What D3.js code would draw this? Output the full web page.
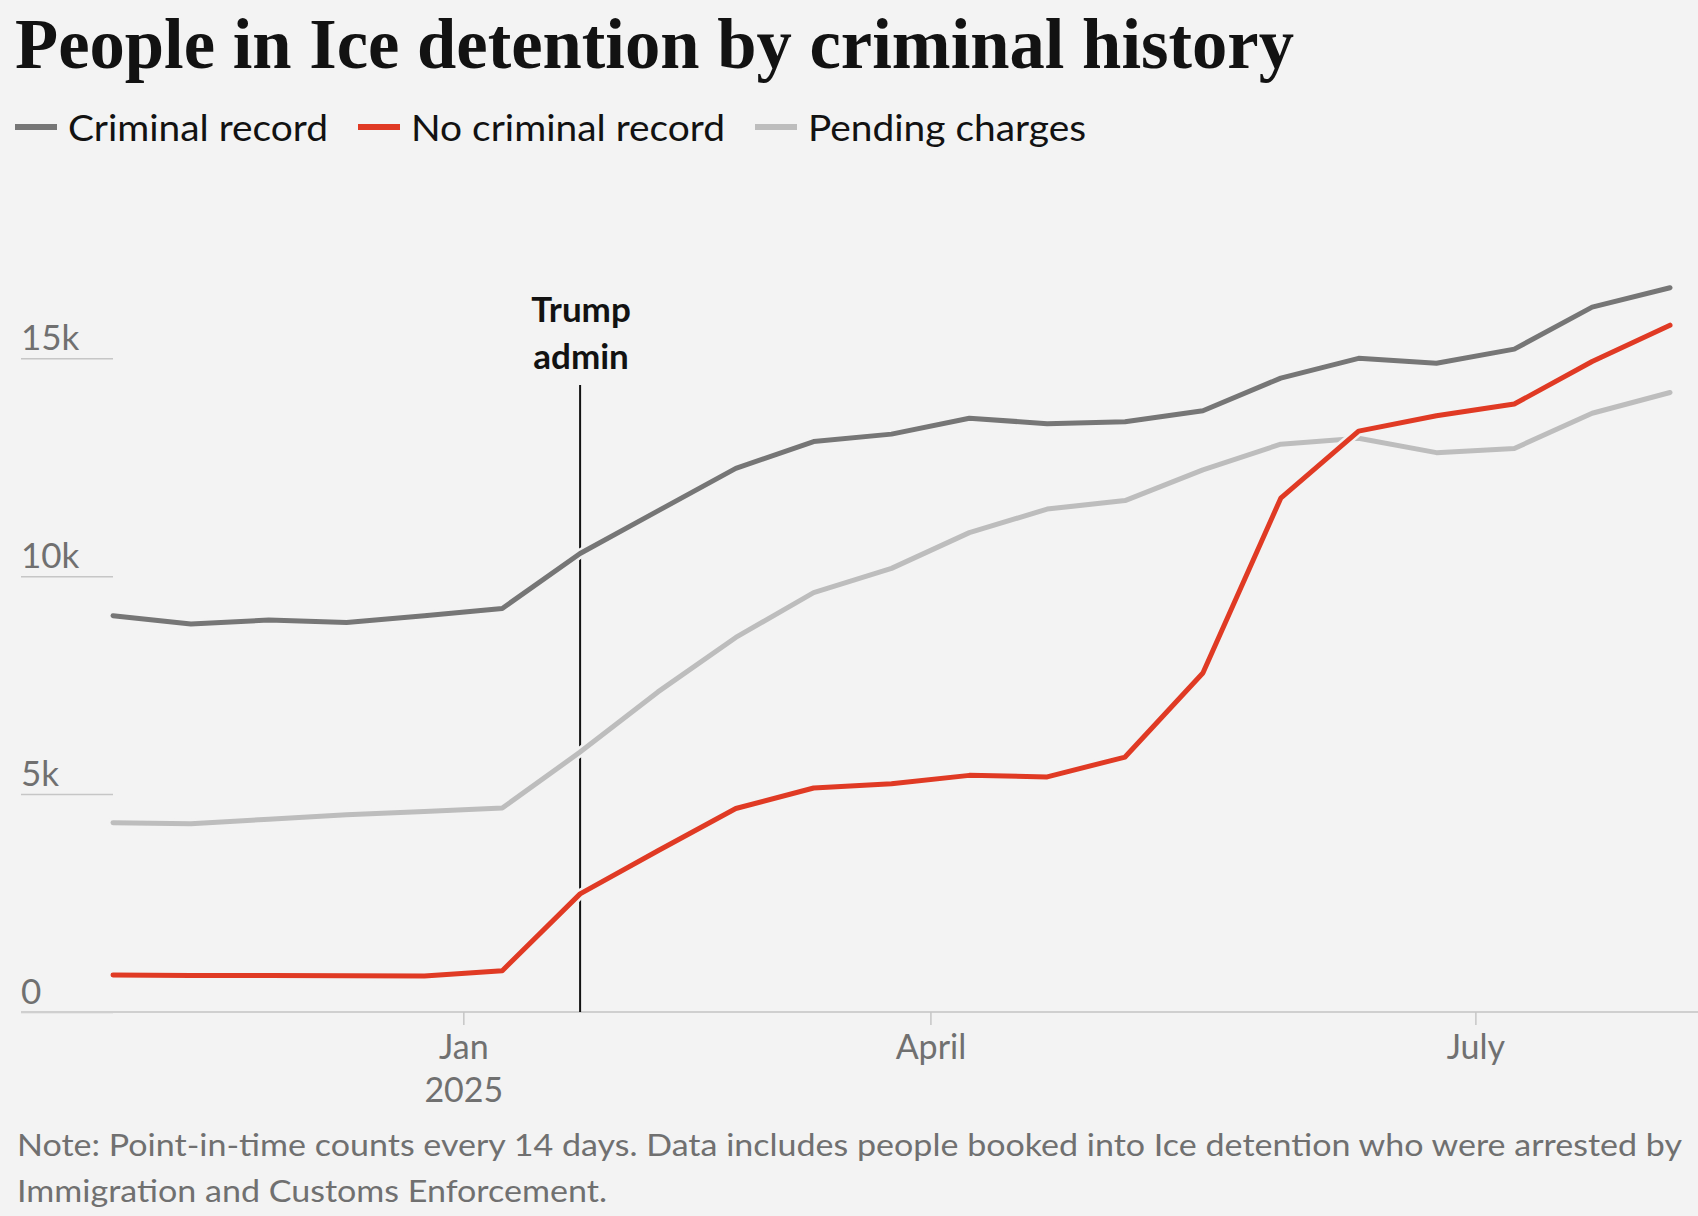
<!DOCTYPE html>
<html><head><meta charset="utf-8">
<script src="https://cdn.jsdelivr.net/npm/d3@7"></script>
<style>html,body{margin:0;padding:0;background:#f3f3f3;} svg{display:block}</style>
</head><body><svg id="chart" width="1698" height="1216"></svg>
<script>
// ---- data ----
const dates = ["2024-11-03","2024-11-17","2024-12-01","2024-12-15","2024-12-29","2025-01-12","2025-01-26","2025-02-09","2025-02-23","2025-03-09","2025-03-23","2025-04-06","2025-04-20","2025-05-04","2025-05-18","2025-06-01","2025-06-15","2025-06-29","2025-07-13","2025-07-27","2025-08-10"];
const criminalRecord   = [9095, 8905, 8995, 8940, 9095, 9260, 10520, 11500, 12475, 13090, 13260, 13625, 13500, 13545, 13795, 14545, 15000, 14885, 15210, 16175, 16620];
const noCriminalRecord = [850, 835, 835, 832, 826, 948, 2710, 3700, 4670, 5140, 5240, 5430, 5395, 5850, 7780, 11790, 13330, 13680, 13950, 14925, 15760];
const pendingCharges   = [4345, 4320, 4425, 4525, 4600, 4680, 5965, 7345, 8595, 9625, 10180, 11000, 11540, 11735, 12440, 13030, 13165, 12835, 12930, 13740, 14215];
const seriesNames  = ["Criminal record", "No criminal record", "Pending charges"];
const seriesColors = ["#767676", "#e03a24", "#bdbdbd"];
const yTickValues = [0, 5000, 10000, 15000];
const yTickLabels = ["0", "5k", "10k", "15k"];
const xTickMonths = ["2025-01", "2025-04", "2025-07"];
const xTickLabels = [["Jan", "2025"], ["April"], ["July"]];
const annotationDate = "2025-01-20";
const annotationLabel = ["Trump", "admin"];
const titleText = "People in Ice detention by criminal history";
const noteLines = ["Note: Point-in-time counts every 14 days. Data includes people booked into Ice detention who were arrested by",
                   "Immigration and Customs Enforcement."];

// ---- chart ----
const svg = d3.select("#chart");
const W = 1698, H = 1216, BG = "#f3f3f3";
const SANS = "Lato, 'Noto Sans', sans-serif";
svg.append("rect").attr("width", W).attr("height", H).attr("fill", BG);

const x = d3.scaleLinear().domain([0, dates.length - 1]).range([113, 1670]);
const y = d3.scaleLinear().domain([0, 15000]).range([1012, 358.3]);

// title
svg.append("text").attr("x", 15).attr("y", 68)
  .attr("font-family", "'Liberation Serif', serif").attr("font-weight", 700)
  .attr("font-size", 72).attr("fill", "#121212")
  .attr("textLength", 1279).attr("lengthAdjust", "spacingAndGlyphs")
  .text(titleText);

// legend
const legendWidths = [260, 314, 278];
let lx = 15;
seriesNames.forEach((name, i) => {
  svg.append("line").attr("x1", lx).attr("x2", lx + 42).attr("y1", 127).attr("y2", 127)
    .attr("stroke", seriesColors[i]).attr("stroke-width", 6);
  svg.append("text").attr("x", lx + 53).attr("y", 141)
    .attr("font-family", SANS).attr("font-size", 37).attr("fill", "#121212")
    .attr("textLength", legendWidths[i]).attr("lengthAdjust", "spacingAndGlyphs")
    .text(name);
  lx += 53 + legendWidths[i] + 30;
});

// y axis (labels above short gridlines)
const yAxis = d3.axisRight(y).tickValues(yTickValues).tickSize(x(0) - 21)
  .tickFormat((d, i) => yTickLabels[i]);
const yg = svg.append("g").attr("transform", "translate(21,0)").call(yAxis);
yg.select(".domain").remove();
yg.selectAll(".tick line").attr("stroke", "#c6c6c6").attr("stroke-width", 1.5);
yg.selectAll(".tick text").attr("x", 0).attr("dy", -9).attr("text-anchor", "start")
  .attr("font-family", SANS).attr("font-size", 35).attr("fill", "#707070");

// baseline
svg.append("line").attr("x1", 21).attr("x2", W).attr("y1", y(0)).attr("y2", y(0))
  .attr("stroke", "#cfcfcf").attr("stroke-width", 2);

// x axis
const xTickPos = xTickMonths.map(m => dates.findIndex(d => d.startsWith(m)) - 0.5);
const xAxis = d3.axisBottom(x).tickValues(xTickPos).tickSize(13).tickFormat("");
const xg = svg.append("g").attr("transform", `translate(0,${y(0)})`).call(xAxis);
xg.select(".domain").remove();
xg.selectAll(".tick line").attr("stroke", "#c6c6c6").attr("stroke-width", 1.5);
xg.selectAll(".tick").each(function (d, i) {
  const t = d3.select(this).append("text").attr("text-anchor", "middle")
    .attr("font-family", SANS).attr("font-size", 34).attr("fill", "#707070");
  xTickLabels[i].forEach((s, j) => t.append("tspan").attr("x", 0).attr("y", 47 + j * 43).text(s));
});

// annotation
const annIdx = dates.findIndex(d => d >= annotationDate);
svg.append("line").attr("x1", x(annIdx)).attr("x2", x(annIdx)).attr("y1", 385).attr("y2", y(0))
  .attr("stroke", "#121212").attr("stroke-width", 2);
const at = svg.append("text").attr("text-anchor", "middle")
  .attr("font-family", SANS).attr("font-weight", 700).attr("font-size", 35).attr("fill", "#121212");
annotationLabel.forEach((s, j) => at.append("tspan").attr("x", x(annIdx) + 1).attr("y", 322 + j * 47).text(s));

// lines
const line = d3.line().x((d, i) => x(i)).y(d => y(d));
const drawOrder = [[pendingCharges, 2], [criminalRecord, 0], [noCriminalRecord, 1]];
drawOrder.forEach(([vals, ci]) => {
  svg.append("path").datum(vals).attr("d", line).attr("fill", "none")
    .attr("stroke", BG).attr("stroke-width", 10).attr("stroke-linejoin", "round").attr("stroke-linecap", "round");
  svg.append("path").datum(vals).attr("d", line).attr("fill", "none")
    .attr("stroke", seriesColors[ci]).attr("stroke-width", 5).attr("stroke-linejoin", "round").attr("stroke-linecap", "round");
});

// note
const noteWidths = [1665, 590];
noteLines.forEach((s, j) => {
  svg.append("text").attr("x", 17).attr("y", 1156 + j * 46)
    .attr("font-family", SANS).attr("font-size", 30).attr("fill", "#707070")
    .attr("textLength", noteWidths[j]).attr("lengthAdjust", "spacingAndGlyphs")
    .text(s);
});
</script></body></html>
